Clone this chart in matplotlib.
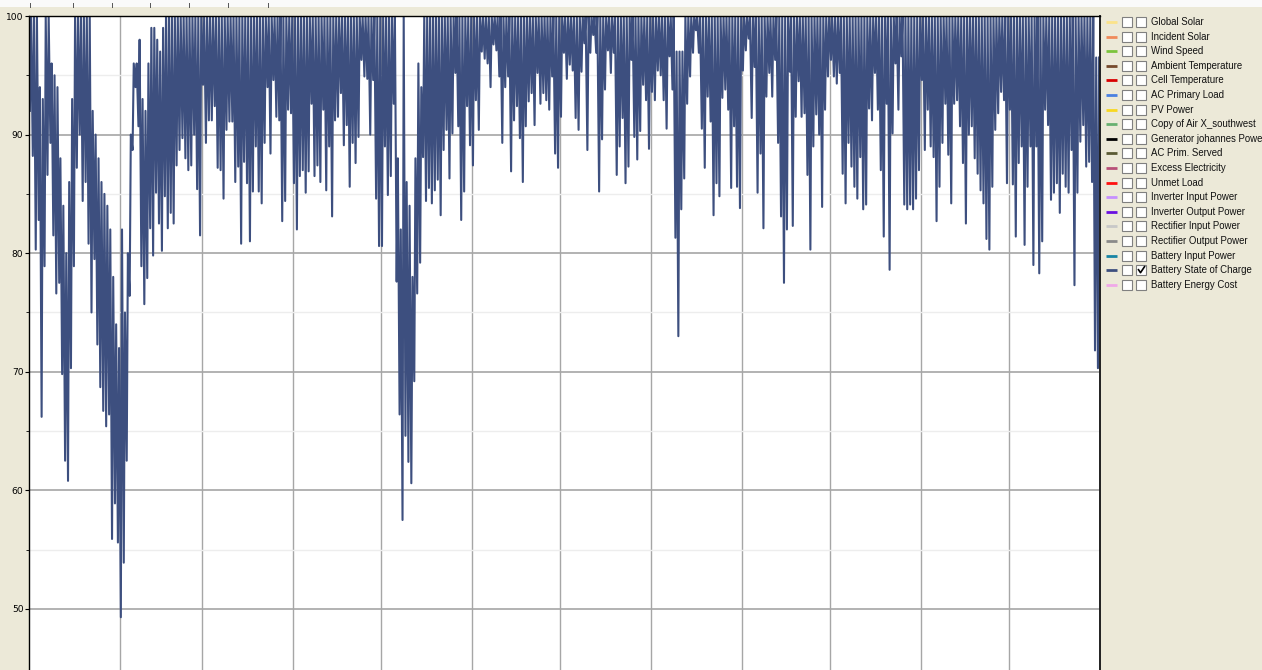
import numpy as np
import matplotlib
matplotlib.use('Agg')
import matplotlib.pyplot as plt
from matplotlib.patches import Rectangle

# Battery state of charge (%), daily low / daily high
jan_min = [92.0, 88.2, 80.3, 82.8, 66.2, 78.9, 86.6, 89.3, 81.5, 76.6, 77.5, 69.8, 62.5, 60.8, 70.3, 78.9,
           87.2, 90.0, 84.4, 86.0, 80.8, 75.0, 79.5, 72.3, 68.7, 66.7, 65.4, 66.4, 55.9, 58.9, 55.6]
feb_min = [49.3, 53.9, 62.5, 76.4, 88.7, 94.0, 90.7, 78.9, 75.7, 77.9, 82.1, 79.8, 85.1, 82.5, 80.2, 84.8,
           82.1, 83.4, 82.5, 87.4, 88.7, 89.7, 88.0, 87.0, 87.4, 90.0, 85.4, 81.5]
mar_min = [94.2, 89.3, 91.2, 91.2, 92.4, 87.2, 87.0, 84.6, 90.4, 91.1, 91.1, 86.0, 87.3, 80.8, 87.7, 85.9,
           81.0, 85.2, 89.0, 85.2, 84.2, 89.3, 94.0, 88.4, 94.6, 91.5, 91.2, 82.7, 84.4, 92.1, 91.8]
apr_min = [85.9, 82.0, 86.5, 87.0, 85.1, 86.9, 92.6, 86.5, 87.4, 86.0, 92.1, 85.3, 89.0, 83.1, 91.2, 91.5,
           93.5, 89.1, 90.8, 85.6, 89.3, 87.6, 89.8, 96.3, 94.9, 94.7, 90.0, 94.6, 84.6, 80.6]
may_min = [80.6, 89.0, 84.9, 86.5, 92.6, 77.6, 66.4, 57.5, 64.6, 62.4, 60.6, 69.2, 76.6, 79.2, 88.1, 84.4,
           85.5, 84.2, 85.3, 86.2, 83.2, 88.7, 90.4, 86.3, 90.1, 95.2, 90.7, 82.8, 85.2, 92.4, 89.1]
jun_min = [87.4, 92.9, 90.4, 97.0, 96.4, 96.0, 94.0, 97.6, 97.1, 94.9, 89.3, 94.0, 94.9, 86.9, 91.2, 92.4,
           89.7, 86.0, 90.7, 92.8, 93.5, 90.8, 95.2, 92.6, 93.5, 92.9, 92.1, 94.9, 88.4, 87.2]
jul_min = [91.5, 96.9, 94.7, 95.9, 95.4, 91.4, 90.4, 95.3, 97.7, 88.7, 96.9, 98.4, 96.9, 85.2, 89.6, 93.8,
           97.1, 95.2, 96.9, 86.6, 89.0, 91.4, 85.9, 87.3, 96.3, 89.8, 87.9, 90.3, 94.2, 92.9, 88.8]
aug_min = [93.6, 92.9, 95.4, 95.0, 92.9, 90.5, 96.6, 93.8, 81.3, 73.0, 83.7, 86.3, 92.6, 94.9, 96.9, 98.8,
           96.9, 90.5, 87.2, 93.2, 91.1, 83.2, 85.9, 84.8, 93.1, 93.8, 92.1, 85.5, 90.7, 85.6, 83.8]
sep_min = [95.4, 97.1, 98.1, 91.4, 95.7, 85.1, 88.4, 82.1, 93.2, 95.2, 93.2, 96.3, 89.3, 83.1, 77.5, 82.0,
           95.3, 82.3, 91.5, 94.5, 91.5, 91.8, 86.6, 80.3, 89.0, 91.7, 90.0, 83.9, 92.1, 94.9]
oct_min = [96.3, 94.9, 94.3, 95.2, 86.7, 84.2, 89.3, 87.3, 85.6, 84.6, 88.1, 83.7, 84.1, 92.2, 91.2, 95.2,
           92.1, 87.0, 81.4, 92.6, 78.6, 90.1, 96.0, 92.1, 96.6, 84.1, 83.7, 84.1, 83.7, 84.6, 87.0]
nov_min = [94.6, 88.7, 92.1, 89.0, 88.1, 82.7, 85.6, 89.3, 92.6, 88.3, 84.2, 92.6, 92.9, 90.7, 87.6, 82.5,
           90.0, 90.7, 88.0, 86.7, 85.3, 84.2, 81.2, 80.3, 85.6, 90.4, 91.8, 93.6, 92.9, 85.9]
dec_min = [92.1, 85.8, 81.4, 87.6, 89.0, 80.7, 85.6, 89.0, 79.0, 89.0, 78.3, 81.0, 92.1, 90.8, 84.5, 85.1,
           85.9, 83.4, 86.7, 85.6, 85.1, 88.7, 77.3, 85.1, 89.4, 90.8, 87.3, 87.7, 86.0, 71.8, 70.3]

jan_max = [100, 100, 100, 94, 93, 100, 100, 96, 95, 94, 88, 84, 80, 86, 93, 100,
           100, 100, 100, 100, 100, 92, 90, 88, 86, 85, 84, 82, 78, 74, 72]
feb_max = [82, 75, 80, 90, 96, 96, 98, 93, 92, 96, 99, 99, 98, 97, 99, 100,
           100, 100, 100, 100, 100, 100, 100, 100, 100, 100, 100, 100]
may_max = [100, 100, 100, 100, 100, 88, 82, 100, 86, 84, 78, 88, 96, 94, 100, 100,
           100, 100, 100, 100, 100, 100, 100, 100, 100, 100, 100, 100, 100, 100, 100]
aug_max = [100, 100, 100, 100, 100, 100, 100, 100, 97, 97, 97, 100, 100, 100, 100, 100,
           100, 100, 100, 100, 100, 100, 100, 100, 100, 100, 100, 100, 100, 100, 100]
dec_max = [100] * 29 + [96.5, 96.5]

month_days = [31, 28, 31, 30, 31, 30, 31, 31, 30, 31, 30, 31]

legend_labels = ['Global Solar', 'Incident Solar', 'Wind Speed', 'Ambient Temperature',
                 'Cell Temperature', 'AC Primary Load', 'PV Power', 'Copy of Air X_southwest',
                 'Generator johannes Power', 'AC Prim. Served', 'Excess Electricity', 'Unmet Load',
                 'Inverter Input Power', 'Inverter Output Power', 'Rectifier Input Power',
                 'Rectifier Output Power', 'Battery Input Power', 'Battery State of Charge',
                 'Battery Energy Cost']
legend_colors = ['#fbe38a', '#f08a5a', '#7cc43c', '#764a2c', '#d80000', '#4a80e0', '#f8d820',
                 '#68b070', '#000000', '#5a5a34', '#b85078', '#ff1010', '#c690ff', '#6a10e0',
                 '#c8c8c8', '#8a8a8a', '#1884a4', '#3d4f7f', '#f0a8e8']
checked = 'Battery State of Charge'

W, H = 1262, 670
BEIGE = '#ece9d8'
SOC_COLOR = '#3d4f7f'

day_min = np.concatenate([jan_min, feb_min, mar_min, apr_min, may_min, jun_min,
                          jul_min, aug_min, sep_min, oct_min, nov_min, dec_min])
full = [100] * 31
day_max = np.concatenate([jan_max, feb_max, full, full[:30], may_max, full[:30],
                          full, aug_max, full[:30], full, full[:30], dec_max])
days = np.arange(len(day_min))

# low point in the early morning, high point in the afternoon
t = np.empty(2 * len(days))
t[0::2] = days + 0.3
t[1::2] = days + 0.7
soc = np.empty_like(t)
soc[0::2] = day_min
soc[1::2] = day_max

fig = plt.figure(figsize=(W / 100, H / 100), dpi=100, facecolor=BEIGE)

ax = fig.add_axes([29 / W, 0, 1071 / W, 654 / H])
ax.plot(t, soc, color=SOC_COLOR, lw=1.5)
ax.set_xlim(0, 365)
ax.set_ylim(44.85, 100)

ax.set_yticks([50, 60, 70, 80, 90, 100])
ax.set_yticks([55, 65, 75, 85, 95], minor=True)
ax.set_xticks(np.cumsum(month_days)[:-1])
ax.tick_params(axis='x', length=0, labelbottom=False)
ax.tick_params(axis='y', which='major', direction='out', length=3, width=0.8,
               labelsize=6.6, pad=1)
ax.tick_params(axis='y', which='minor', direction='out', length=2, width=0.6)
ax.grid(axis='x', color='#a6a6a6', lw=1.0)
ax.grid(axis='y', which='major', color='#a6a6a6', lw=1.2)
ax.grid(axis='y', which='minor', color='#ededed', lw=1.0)
ax.set_axisbelow(True)
ax.spines['bottom'].set_visible(False)
ax.spines['left'].set_linewidth(1.0)
ax.spines['top'].set_linewidth(1.0)
ax.spines['right'].set_color('#202020')
ax.spines['right'].set_linewidth(1.4)

# window chrome and the series list on the right, in pixel coordinates
ov = fig.add_axes([0, 0, 1, 1])
ov.set_xlim(0, W)
ov.set_ylim(H, 0)
ov.axis('off')
ov.patch.set_visible(False)

ov.add_patch(Rectangle((0, 0), W, 6.5, fc='#fafafa', ec='none'))
for x in [30, 73, 112, 150, 189, 228, 268]:
    ov.plot([x, x], [3, 7], color='#555555', lw=0.7)

for i, (lab, col) in enumerate(zip(legend_labels, legend_colors)):
    y = 22 + 14.6 * i
    ov.plot([1106, 1117], [y, y], color=col, lw=2.0, solid_capstyle='butt')
    for bx in (1122, 1136):
        ov.add_patch(Rectangle((bx, y - 5), 10, 10, fc='white', ec='#808080', lw=0.8))
    if lab == checked:
        ov.plot([1138.5, 1140.5, 1144.5], [y - 0.5, y + 2.5, y - 3.5], color='black', lw=1.2)
    ov.text(1151, y, lab, va='center', ha='left', fontsize=6.9, family='Liberation Sans',
            color='#111111', clip_on=True)

fig.savefig('out.png', dpi=100, facecolor=BEIGE)
